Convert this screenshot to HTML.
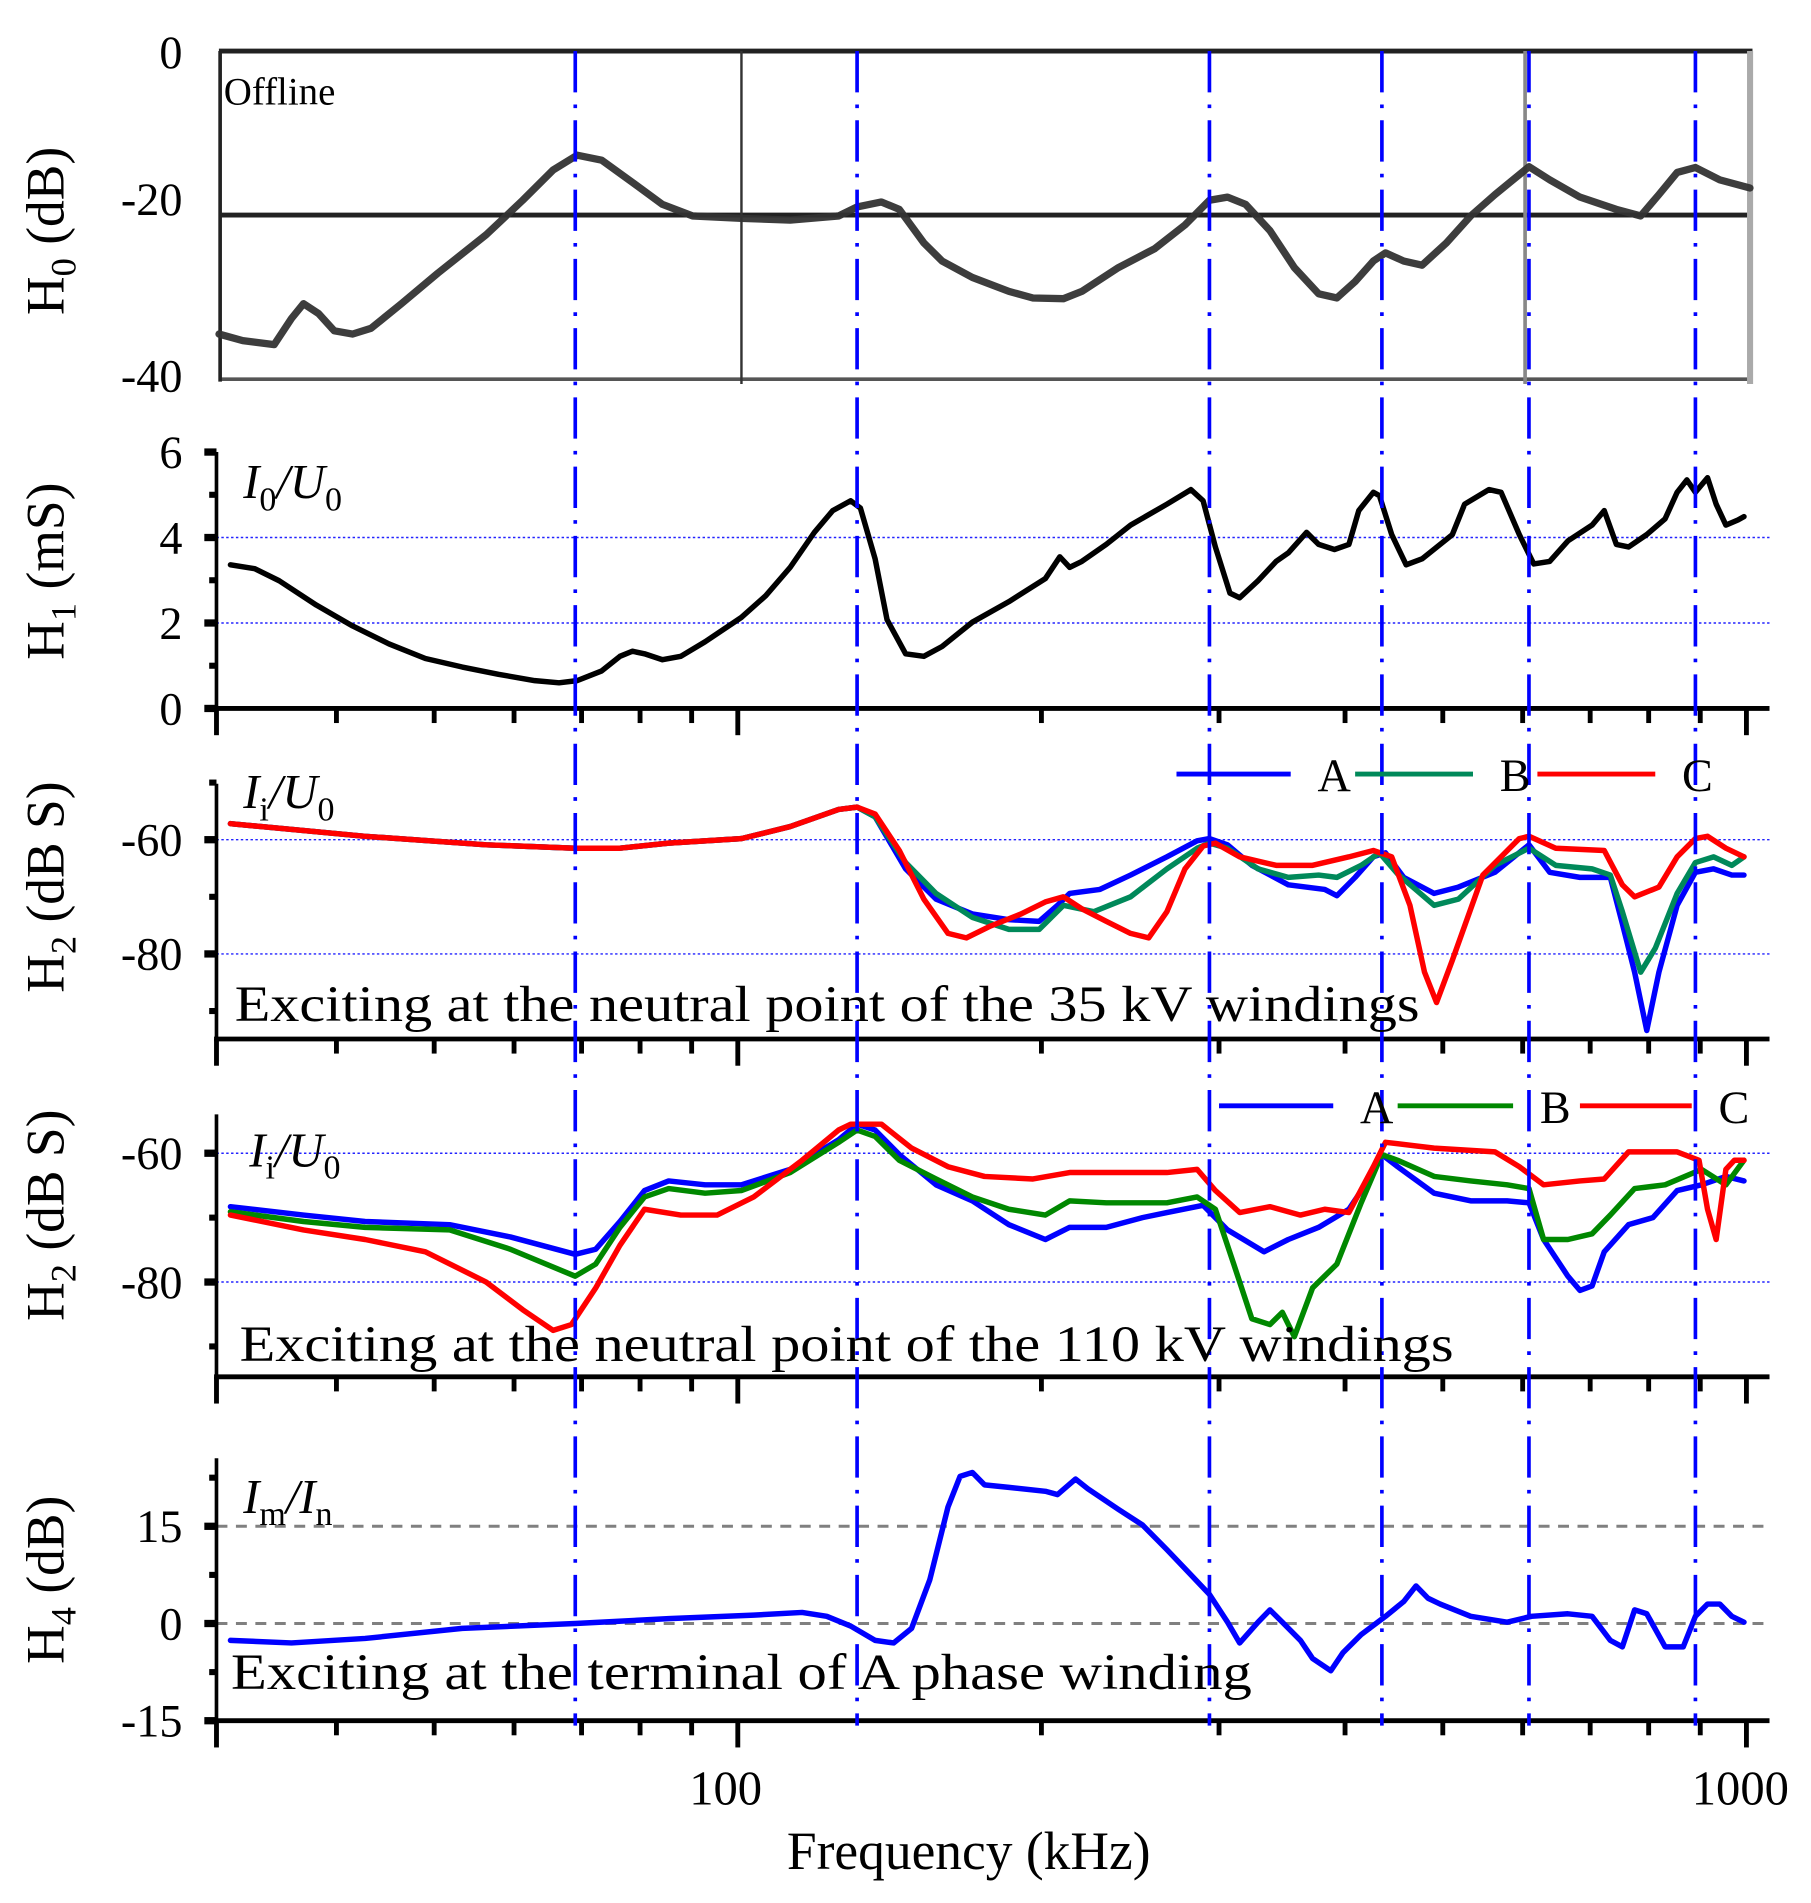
<!DOCTYPE html>
<html><head><meta charset="utf-8">
<style>
html,body{margin:0;padding:0;background:#fff;}
svg{display:block;font-family:"Liberation Serif",serif;}
</style></head>
<body>
<svg id="chart" width="1811" height="1903" viewBox="0 0 1490 1566" xmlns="http://www.w3.org/2000/svg">
<g id="grid-layer"></g>
<g id="axes-layer"></g>
<g id="series-layer"></g>
<g id="markers-layer"></g>
<g id="text-layer"></g>
</svg>
<script>
// ---------- data ----------
const markerFreqs = [69.0, 131.3, 293.5, 435.1, 608.7, 890.1];

const h0Freq = [30.6,32.3,34.7,36.1,37.1,38.4,39.8,41.5,43.3,46.4,50.4,56.3,61.2,65.6,69.3,73.3,78.6,84.2,90.2,100.8,112.7,125.9,131.3,138.8,144.6,152.9,159.4,170.8,185.7,196.2,210.3,219.3,238.4,259.0,277.6,293.5,305.9,318.8,337.0,356.3,376.6,392.6,409.3,426.7,438.7,457.4,476.9,504.1,532.9,563.3,608.7,638.1,683.8,743.1,785.6,819.0,853.8,890.1,941.0,1008];
const h0Vals = [-34.5,-35.3,-35.8,-32.6,-30.8,-32,-34.1,-34.5,-33.8,-30.8,-27.1,-22.4,-18.2,-14.5,-12.7,-13.3,-16,-18.7,-20.1,-20.4,-20.6,-20.1,-19,-18.4,-19.3,-23.4,-25.6,-27.6,-29.3,-30.1,-30.2,-29.3,-26.4,-24.1,-21.2,-18.2,-17.8,-18.7,-21.9,-26.4,-29.6,-30.1,-28.1,-25.6,-24.6,-25.6,-26.1,-23.4,-20.1,-17.5,-14.1,-15.7,-17.8,-19.3,-20.1,-17.5,-14.8,-14.2,-15.7,-16.7];

const h1Freq = [31.4,33.2,35.1,38.2,41.5,45.1,49.0,53.3,57.9,62.9,66.5,69.3,73.3,76.4,78.6,80.8,84.2,87.8,92.8,100.8,106.6,112.7,119.1,124.2,129.4,132.3,136.8,140.6,146.7,152.9,159.4,170.8,185.7,201.8,208.6,213.3,219.3,231.9,245.1,266.3,281.4,289.3,297.5,307.6,314.5,327.9,341.8,351.4,366.3,376.6,390.5,403.6,412.7,426.7,432.6,444.9,459.9,476.9,497.1,511.0,525.5,555.5,571.1,595.4,615.4,638.1,665.2,703.1,722.8,743.1,764.0,796.6,830.6,853.8,873.0,890.1,915.0,933.2,954.1,980.8,994.5];
const h1Vals = [3.36,3.27,2.99,2.42,1.93,1.51,1.17,0.97,0.80,0.65,0.60,0.65,0.88,1.22,1.34,1.28,1.14,1.22,1.56,2.13,2.64,3.30,4.12,4.63,4.86,4.69,3.50,2.08,1.28,1.22,1.45,2.02,2.50,3.04,3.55,3.30,3.44,3.84,4.29,4.78,5.12,4.86,3.78,2.70,2.59,2.99,3.44,3.64,4.12,3.84,3.72,3.84,4.63,5.06,4.98,4.07,3.36,3.50,3.84,4.07,4.78,5.12,5.06,4.07,3.38,3.44,3.92,4.29,4.63,3.84,3.78,4.07,4.44,5.06,5.35,5.06,5.40,4.78,4.29,4.41,4.49];

// 35 kV panel
const h2aCommonFreq = [31.4,42.7,56.3,69.0,76.4,85.4,100.8,112.7,125.9,131.3];
const h2aCommonVals = [-57.2,-59.4,-60.9,-61.5,-61.5,-60.6,-59.8,-57.7,-54.7,-54.3];
const h2aAFreq = [136.8,146.7,157.2,170.8,185.7,199.0,207.5,213.3,228.6,245.1,266.3,285.4,293.5,305.9,323.3,351.4,381.9,392.6,409.3,426.7,438.7,457.4,490.2,518.2,563.3,608.7,638.1,683.8,733.0,753.4,774.7,796.6,819.0,853.8,890.1,927.8,967.2,994.5];
const h2aAVals = [-56.0,-65.1,-70.4,-73,-74,-74.3,-71.5,-69.4,-68.7,-66.2,-63,-60.2,-59.8,-60.9,-64.5,-67.9,-68.7,-69.8,-66.6,-63,-62.3,-66.6,-69.4,-68.3,-65.7,-60.9,-65.7,-66.6,-66.6,-74.7,-83.2,-93.4,-83.2,-71.5,-65.7,-65.1,-66.2,-66.2];
const h2aBFreq = [136.8,146.7,157.2,170.8,185.7,199.0,210.3,225.4,245.1,266.3,285.4,293.5,305.9,327.9,351.4,376.6,392.6,415.0,432.6,451.1,490.2,518.2,563.3,608.7,647.0,703.1,733.0,753.4,785.6,812.2,853.8,890.1,927.8,967.2,994.5];
const h2aBVals = [-56,-64,-69.4,-73.6,-75.7,-75.7,-71.5,-72.6,-70,-65.1,-61.5,-60.6,-61.5,-65.1,-66.6,-66.2,-66.6,-64.5,-62.3,-66,-71.5,-70.4,-64.5,-61.5,-64.5,-65.1,-66.2,-72.6,-83.2,-79,-69.4,-64,-63,-64.5,-63];
const h2aCFreq = [136.8,144.6,152.9,161.6,168.5,178.1,190.9,201.8,210.3,219.3,231.9,245.1,255.5,266.3,277.6,289.3,297.5,314.5,341.8,371.4,403.6,426.7,444.9,463.8,479.5,492.9,511.0,547.8,595.4,608.7,647.0,722.8,753.4,774.7,819.0,853.8,890.1,915.0,954.1,994.5];
const h2aCVals = [-55.5,-61.9,-70.4,-76.4,-77.2,-75.1,-73,-70.9,-70,-72.1,-74.3,-76.4,-77.2,-72.6,-65.1,-61.1,-60.6,-63,-64.5,-64.5,-63,-61.9,-63,-71.5,-83.2,-88.5,-81.1,-66.2,-59.8,-59.4,-61.5,-61.9,-67.9,-70,-68.3,-63,-59.8,-59.4,-61.5,-63];

// 110 kV panel
const h2bAFreq = [31.4,37.1,42.7,51.8,59.5,69.0,72.3,76.4,80.8,85.4,92.8,100.8,112.7,125.9,131.3,136.8,144.6,157.2,170.8,185.7,201.8,213.3,231.9,251.9,266.3,289.3,305.9,332.4,351.4,376.6,403.6,426.7,435.1,451.1,490.2,532.9,579.1,608.7,629.3,665.2,683.8,703.1,722.8,764.0,807.7,853.8,902.6,954.1,994.5];
const h2bAVals = [-68.3,-69.6,-70.6,-71.1,-73,-75.7,-74.9,-70.6,-65.8,-64.3,-64.9,-64.9,-62.5,-57.9,-55.5,-56.4,-60.2,-64.9,-67.4,-71.1,-73.4,-71.5,-71.5,-70,-69.2,-68.1,-71.9,-75.3,-73.4,-71.5,-68.7,-63,-60.2,-62.1,-66.2,-67.4,-67.4,-67.7,-73.4,-79.1,-81.3,-80.6,-75.3,-71.1,-70,-65.8,-64.9,-63.6,-64.3];
const h2bBFreq = [31.4,37.1,42.7,51.8,59.5,69.0,72.3,76.4,80.8,85.4,92.8,100.8,112.7,125.9,131.3,136.8,144.6,157.2,170.8,185.7,201.8,213.3,231.9,251.9,266.3,285.4,297.5,310.2,323.3,337.0,346.6,356.3,371.4,392.6,415.0,435.1,451.1,490.2,532.9,579.1,608.7,629.3,665.2,703.1,733.0,774.7,830.6,902.6,954.1,994.5];
const h2bBVals = [-69.1,-70.6,-71.5,-71.9,-74.9,-79.1,-77.2,-71.5,-66.8,-65.5,-66.2,-65.8,-63,-58.3,-56.4,-57.4,-61.1,-64,-66.8,-68.7,-69.6,-67.4,-67.7,-67.7,-67.7,-66.8,-68.7,-77.2,-85.7,-86.6,-84.7,-88.5,-80.9,-77.2,-67.7,-60.2,-61.1,-63.6,-64.3,-64.9,-65.5,-73.4,-73.4,-72.5,-69.6,-65.5,-64.9,-62.5,-64.9,-61.1];
const h2bCFreq = [31.4,37.1,42.7,49.0,56.3,61.2,65.6,68.4,72.3,76.4,80.8,87.8,95.4,103.7,115.8,125.9,129.4,138.8,148.7,161.6,175.6,196.2,213.3,238.4,266.3,285.4,297.5,314.5,337.0,361.3,381.9,403.6,426.7,438.7,490.2,563.3,595.4,629.3,683.8,722.8,764.0,853.8,897.5,915.0,933.2,954.1,972.8,994.5];
const h2bCVals = [-69.6,-71.9,-73.4,-75.3,-80,-84.3,-87.5,-86.6,-80.9,-74.3,-68.7,-69.6,-69.6,-66.8,-61.1,-56.4,-55.5,-55.5,-59.2,-62.1,-63.6,-64,-63,-63,-63,-62.5,-65.8,-69.2,-68.3,-69.6,-68.7,-69.2,-62.1,-58.3,-59.2,-59.8,-62.1,-64.9,-64.3,-64,-59.8,-59.8,-61.1,-68.7,-73.4,-62.5,-61.1,-61.1];

// H4 panel
const h4Freq = [31.4,36.1,42.7,53.3,69.0,85.4,103.7,115.8,122.5,129.4,136.8,142.7,148.7,155.0,161.6,166.1,170.8,175.6,185.7,201.8,207.5,216.2,222.3,238.4,251.9,266.3,281.4,293.5,305.9,314.5,327.9,337.0,346.6,361.3,371.4,387.2,398.1,415.0,438.7,457.4,470.3,483.4,497.1,532.9,579.1,612.2,665.2,703.1,733.0,753.4,774.7,796.6,830.6,865.7,890.1,915.0,941.0,967.2,994.5];
const h4Vals = [-2.6,-3,-2.3,-0.75,0,0.75,1.3,1.7,1.1,-0.4,-2.6,-3,-0.75,6.75,18,22.7,23.3,21.4,21,20.4,19.9,22.3,20.8,17.6,15.2,11.4,7.5,4.5,0.2,-3,0.2,2.1,0.2,-2.6,-5.4,-7.3,-4.5,-1.7,1.1,3.4,5.8,3.9,3,1.1,0.2,1.1,1.5,1.1,-2.6,-3.6,2.1,1.5,-3.6,-3.6,1.1,3,3,1.1,0.2];

// axis ticks
const yTicksH0 = [0,-20,-40];
const yTicksH1 = [0,2,4,6];
const yTicksH2 = [-60,-80];
const yTicksH4 = [-15,0,15];
const xMinorTicks = [40,50,60,70,80,90,200,300,400,500,600,700,800,900];
const xMajorTicks = [100,1000];

// ---------- helpers ----------
const NS = "http://www.w3.org/2000/svg";
const X0 = 607, DEC = 830;
function xs(f){ return X0 + DEC*Math.log10(f/100); }
function lin(v0,y0,v1,y1){ return v => y0 + (v-v0)*(y1-y0)/(v1-v0); }
function mk(tag, attrs, parent){
  const e = document.createElementNS(NS, tag);
  for (const k in attrs) e.setAttribute(k, attrs[k]);
  document.getElementById(parent).appendChild(e);
  return e;
}
function pathD(fr, vals, ys){
  return fr.map((f,i)=> (i?'L':'M') + xs(f).toFixed(1) + ' ' + ys(vals[i]).toFixed(1)).join(' ');
}
function series(fr, vals, ys, color, w, name, op){
  const p = mk('path', {d: pathD(fr, vals, ys), fill:'none', stroke:color, 'stroke-width':w, 'stroke-linejoin':'round', 'stroke-linecap':'round', opacity: op||1}, 'series-layer');
  
  
  return p;
}
function text(x,y,str,size,opts,name){
  const t = mk('text', Object.assign({x:x,y:y,'font-size':size,fill:'#000'}, opts||{}), 'text-layer');
  t.textContent = str;
  
  
  return t;
}
function line(x1,y1,x2,y2,stroke,w,layer,name,extra){
  const l = mk('line', Object.assign({x1:x1,y1:y1,x2:x2,y2:y2,stroke:stroke,'stroke-width':w}, extra||{}), layer);
  
  
  return l;
}
function xAxis(y, name){
  line(176, y, 1456, y, '#000', 4, 'axes-layer', name);
  xMinorTicks.forEach(f=>{ line(xs(f), y, xs(f), y+12, '#000', 4, 'axes-layer', name+'-minor-tick'); });
  xMajorTicks.forEach(f=>{ line(xs(f), y, xs(f), y+22, '#000', 4, 'axes-layer', name+'-major-tick'); });
  line(178, y, 178, y+22, '#000', 4, 'axes-layer', name+'-start-tick');
}
function yAxis(top, bottom, ys, ticks, minor, name, labelX){
  line(178, top, 178, bottom, '#000', 3, 'axes-layer', name);
  ticks.forEach(v=>{
    line(168, ys(v), 178, ys(v), '#000', 6, 'axes-layer', name+'-tick');
    text(labelX||150, ys(v)+13, v<0 ? '-'+Math.abs(v) : String(v), 38, {'text-anchor':'end'}, name+'-tick-label');
  });
  minor.forEach(v=>{ line(172, ys(v), 178, ys(v), '#000', 5, 'axes-layer', name+'-minor-tick'); });
}
function ytitle(cx, cy, main, sub, rest, name){
  const t = mk('text', {x:0, y:0, 'font-size':44, 'text-anchor':'middle', transform:`translate(${cx},${cy}) rotate(-90)`}, 'text-layer');
  t.innerHTML = `${main}<tspan font-size="30" dy="10">${sub}</tspan><tspan dy="-10"> ${rest}</tspan>`;
  
  
}
function italicRatio(x, y, a, as, b, bs, name){
  const t = mk('text', {x:x, y:y, 'font-size':40, 'font-style':'italic'}, 'text-layer');
  t.innerHTML = `${a}<tspan font-size="28" dy="10" font-style="normal">${as}</tspan><tspan dy="-10">/${b}</tspan><tspan font-size="28" dy="10" font-style="normal">${bs}</tspan>`;
  
  
}
function legend(y, items, name){
  items.forEach(it=>{
    line(it[0], y, it[1], y, it[2], 4, 'text-layer', name+'-line-'+it[3]);
    text(it[1]+22, y+14, it[3], 38, {}, name+'-label-'+it[3]);
  });
}

// ---------- panel H0 (scanned image look) ----------
const y0s = lin(0, 42, -40, 312);
line(180, y0s(0), 1442, y0s(0), '#222', 4, 'grid-layer', 'h0-top-line');
line(180, y0s(-20), 1442, y0s(-20), '#222', 4, 'grid-layer', 'h0-grid-minus20');
line(180, y0s(-40), 1442, y0s(-40), '#555', 3, 'grid-layer', 'h0-bottom-line');
line(181, 42, 181, 314, '#222', 3, 'grid-layer', 'h0-left-line');
line(xs(100)+3, 42, xs(100)+3, 316, '#333', 2, 'grid-layer', 'h0-grid-100');
line(xs(1000)+3, 42, xs(1000)+3, 316, '#aaa', 5, 'grid-layer', 'h0-grid-1000');
line(xs(600)+2, 42, xs(600)+2, 316, '#888', 3, 'grid-layer', 'h0-grid-600');
series(h0Freq, h0Vals, y0s, '#333', 6, 'h0-curve', 0.95);
yTicksH0.forEach(v=>{ text(150, y0s(v)+ (v===0?14:(v===-40?10:0)), v<0?'-'+Math.abs(v):String(v), 38, {'text-anchor':'end'}, 'h0-tick-label'); });
text(184, 86, 'Offline', 32, {}, 'h0-offline-label');
ytitle(52, 190, 'H', '0', '(dB)', 'h0-y-axis-title');

// ---------- panel H1 ----------
const y1s = lin(0, 583, 6, 372);
[2,4].forEach(v=> line(178, y1s(v), 1456, y1s(v), '#2222ff', 1.2, 'grid-layer', 'h1-grid-'+v, {'stroke-dasharray':'2,2'}));
yAxis(372, 583, y1s, yTicksH1, [1,3,5], 'h1-y-axis');
xAxis(583, 'h1-x-axis');
series(h1Freq, h1Vals, y1s, '#000', 4.5, 'h1-curve');
italicRatio(200, 410, 'I', '0', 'U', '0', 'h1-ratio-label');
ytitle(52, 470, 'H', '1', '(mS)', 'h1-y-axis-title');

// ---------- panel H2 (35 kV) ----------
const y2as = lin(-60, 691, -80, 785);
[-60,-80].forEach(v=> line(178, y2as(v), 1456, y2as(v), '#2222ff', 1.2, 'grid-layer', 'h2a-grid-'+v, {'stroke-dasharray':'2,2'}));
yAxis(645, 855, y2as, yTicksH2, [-50,-70,-90], 'h2a-y-axis');
xAxis(855, 'h2a-x-axis');
series(h2aCommonFreq.concat(h2aAFreq), h2aCommonVals.concat(h2aAVals), y2as, '#0000ff', 4.5, 'h2a-series-a');
series(h2aCommonFreq.concat(h2aBFreq), h2aCommonVals.concat(h2aBVals), y2as, '#00895a', 4.5, 'h2a-series-b');
series(h2aCommonFreq.concat(h2aCFreq), h2aCommonVals.concat(h2aCVals), y2as, '#ff0000', 4.5, 'h2a-series-c');
legend(637, [[968,1062,'#0000ff','A'],[1115,1212,'#00895a','B'],[1265,1362,'#ff0000','C']], 'h2a-legend');
italicRatio(200, 665, 'I', 'i', 'U', '0', 'h2a-ratio-label');
text(193, 840, 'Exciting at the neutral point of the 35 kV windings', 42, {textLength:975, lengthAdjust:'spacingAndGlyphs'}, 'h2a-annotation');
ytitle(52, 730, 'H', '2', '(dB S)', 'h2a-y-axis-title');

// ---------- panel H2 (110 kV) ----------
const y2bs = lin(-60, 949, -80, 1055);
[-60,-80].forEach(v=> line(178, y2bs(v), 1456, y2bs(v), '#2222ff', 1.2, 'grid-layer', 'h2b-grid-'+v, {'stroke-dasharray':'2,2'}));
yAxis(917, 1133, y2bs, yTicksH2, [-70,-90], 'h2b-y-axis');
xAxis(1133, 'h2b-x-axis');
series(h2bAFreq, h2bAVals, y2bs, '#0000ff', 4.5, 'h2b-series-a');
series(h2bBFreq, h2bBVals, y2bs, '#008800', 4.5, 'h2b-series-b');
series(h2bCFreq, h2bCVals, y2bs, '#ff0000', 4.5, 'h2b-series-c');
legend(910, [[1003,1097,'#0000ff','A'],[1150,1245,'#008800','B'],[1300,1392,'#ff0000','C']], 'h2b-legend');
italicRatio(205, 960, 'I', 'i', 'U', '0', 'h2b-ratio-label');
text(197, 1120, 'Exciting at the neutral point of the 110 kV windings', 42, {textLength:999, lengthAdjust:'spacingAndGlyphs'}, 'h2b-annotation');
ytitle(52, 1000, 'H', '2', '(dB S)', 'h2b-y-axis-title');

// ---------- panel H4 ----------
const y4s = lin(0, 1336, 15, 1256);
[15,0].forEach(v=> line(178, y4s(v), 1456, y4s(v), '#808080', 2.5, 'grid-layer', 'h4-grid-'+v, {'stroke-dasharray':'9,7'}));
yAxis(1200, 1416, y4s, yTicksH4, [22.5,7.5,-7.5], 'h4-y-axis');
xAxis(1416, 'h4-x-axis');
series(h4Freq, h4Vals, y4s, '#0000ff', 4.5, 'h4-curve');
italicRatio(200, 1245, 'I', 'm', 'I', 'n', 'h4-ratio-label');
text(190, 1390, 'Exciting at the terminal of A phase winding', 42, {textLength:840, lengthAdjust:'spacingAndGlyphs'}, 'h4-annotation');
ytitle(52, 1300, 'H', '4', '(dB)', 'h4-y-axis-title');

// ---------- x labels ----------
text(xs(100)-10, 1485, '100', 40, {'text-anchor':'middle'}, 'x-tick-label-100');
text(xs(1000)-5, 1485, '1000', 40, {'text-anchor':'middle'}, 'x-tick-label-1000');
text(797, 1538, 'Frequency  (kHz)', 44, {'text-anchor':'middle'}, 'x-axis-title');

// ---------- vertical marker lines ----------
markerFreqs.forEach(f=>{
  line(xs(f), 42, xs(f), 1420, '#0000ff', 3, 'markers-layer', 'resonance-marker-line', {'stroke-dasharray':'34,10,3,10'});
});
</script>
</body></html>
